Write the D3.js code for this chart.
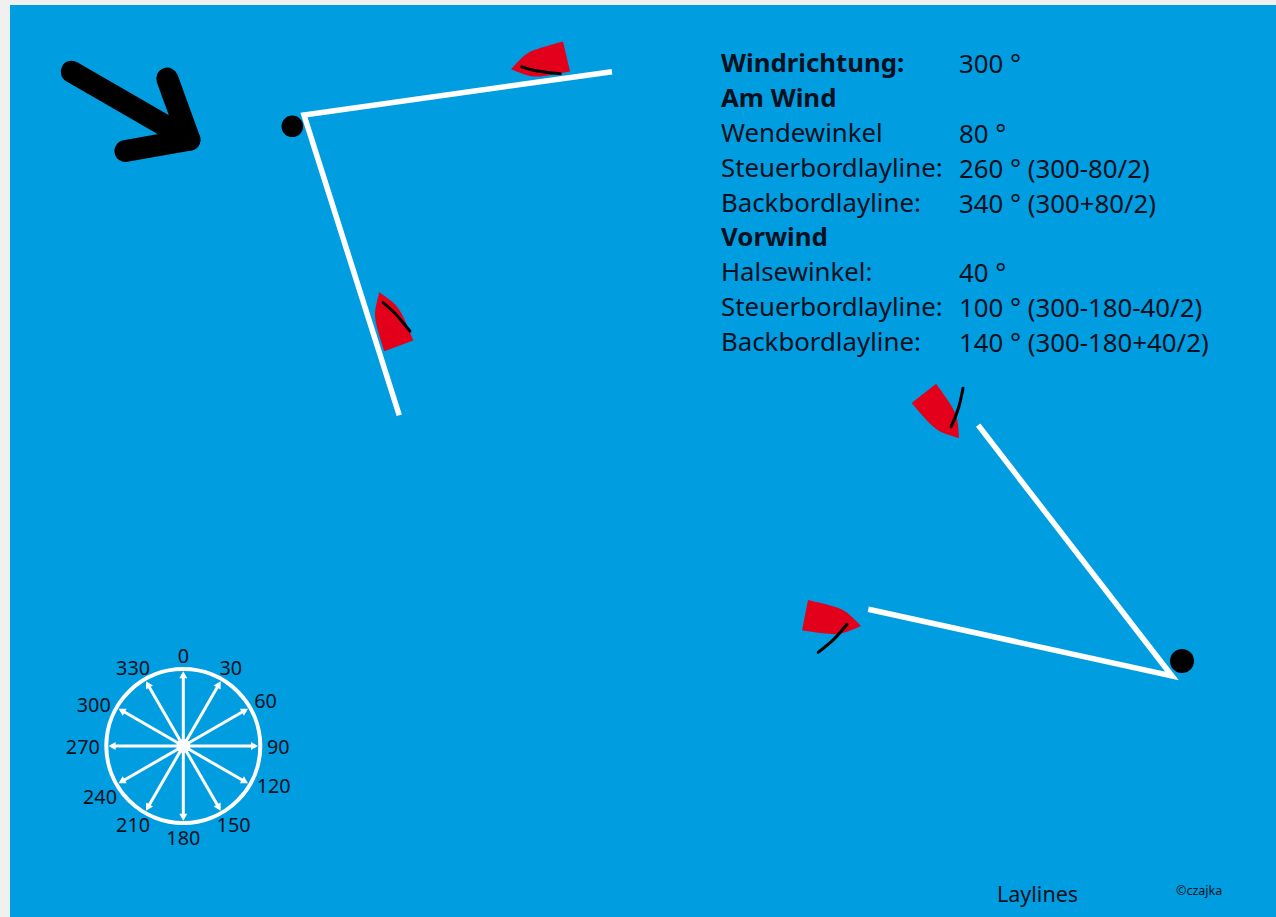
<!DOCTYPE html>
<html>
<head>
<meta charset="utf-8">
<style>
  html, body { margin: 0; padding: 0; background: #f0f0f0; overflow: hidden; }
  svg { display: block; }
  text { font-family: "Noto Sans", sans-serif; fill: #06101e; }
</style>
<script src="https://cdn.jsdelivr.net/npm/d3@7"></script>
</head>
<body>
<div id="chart"></div>
<script>
// wind and laylines, bearings in degrees
const windDirection = 300;
const windArrowStart = [61.7, 66.7];
const windArrowLength = 136;
const windBarbBearings = [260, 340];
const windBarbLength = 65;

// the two corners where the laylines meet, in plan units
const laylineCorners = [[294, 110], [1162, 671]];
const laylineBearings = [[82, 162.4], [282.4, 322.3]];
const laylineLengths = [[311, 315], [311, 317]];

const markPositions = [[282.3, 121.3], [1172, 656]];
const markRadius = [10.8, 12];

// boats: bow position, heading, which side the sail is on
const boatBows = [[501, 64.3], [369.3, 287.3], [949, 433.3], [851, 621]];
const boatHeadings = [257, 340, 142, 101];
const boatSailSide = [-1, 1, -1, 1];
const boatSailType = ["close", "close", "run", "run"];

// hull and sail outline: [distance back from bow, distance to the side]
const hullSide = [[0, 0], [12, 8], [27, 13.5], [57, 15.5]];
const sailShapes = {
  close: [[11, 0], [25, 7.5], [47, 15.5]],
  run: [[14, 1], [24, 18], [37, 34]]
};

// compass
const compassBearings = [0, 30, 60, 90, 120, 150, 180, 210, 240, 270, 300, 330];
const compassCenter = [173.3, 741];
const compassRadius = 77;
// the labels are not quite on their spokes in the original
const compassLabelTurn = [0, 0, 0, 0, -4, 0, 0, 0, -4, 0, -3, 0];

// text block
const tableLabels = ["Windrichtung:", "Am Wind", "Wendewinkel", "Steuerbordlayline:", "Backbordlayline:",
  "Vorwind", "Halsewinkel:", "Steuerbordlayline:", "Backbordlayline:"];
const tableValues = ["300 °", "", "80 °", "260 ° (300-80/2)", "340 ° (300+80/2)",
  "", "40 °", "100 ° (300-180-40/2)", "140 ° (300-180+40/2)"];
const tableBold = ["Windrichtung:", "Am Wind", "Vorwind"];

const width = 1276;
const height = 917;
const white = "#ffffff";
const black = "#000000";
const red = "#e3001b";

const svg = d3.select("#chart").append("svg")
  .attr("width", width)
  .attr("height", height);

const x = d3.scaleLinear().domain([0, 1266]).range([10, 1276]);
const y = d3.scaleLinear().domain([0, 912]).range([5, 917]);

svg.append("rect")
  .attr("x", x(0))
  .attr("y", y(0))
  .attr("width", x(1266) - x(0))
  .attr("height", y(912) - y(0))
  .attr("fill", "#009ee0");

const toRad = (deg) => deg * Math.PI / 180;
// walk from a point along a bearing
const polar = (from, bearing, dist) => [
  from[0] + dist * Math.sin(toRad(bearing)),
  from[1] - dist * Math.cos(toRad(bearing))
];
const line = d3.line().x((d) => x(d[0])).y((d) => y(d[1]));
const curve = d3.line().x((d) => x(d[0])).y((d) => y(d[1])).curve(d3.curveNatural);

// wind arrow
const windBearing = (windDirection + 180) % 360;
const windTip = polar(windArrowStart, windBearing, windArrowLength);
svg.append("g")
  .attr("fill", "none")
  .attr("stroke", black)
  .attr("stroke-width", 22)
  .attr("stroke-linecap", "round")
  .attr("stroke-linejoin", "round")
  .selectAll("path")
  .data([
    [windArrowStart, windTip],
    [polar(windTip, windBarbBearings[0], windBarbLength), windTip, polar(windTip, windBarbBearings[1], windBarbLength)]
  ])
  .join("path")
  .attr("d", line);

// laylines
svg.append("g")
  .attr("fill", "none")
  .attr("stroke", white)
  .attr("stroke-width", 5.5)
  .selectAll("path")
  .data(laylineCorners)
  .join("path")
  .attr("d", (c, i) => line([
    polar(c, laylineBearings[i][0], laylineLengths[i][0]),
    c,
    polar(c, laylineBearings[i][1], laylineLengths[i][1])
  ]));

// marks
svg.append("g")
  .selectAll("circle")
  .data(markPositions)
  .join("circle")
  .attr("cx", (d) => x(d[0]))
  .attr("cy", (d) => y(d[1]))
  .attr("r", (d, i) => markRadius[i])
  .attr("fill", black);

// boats
const boatPoint = (bow, heading, p) => {
  const back = polar(bow, heading + 180, p[0]);
  return polar(back, heading + 90, p[1]);
};
const boats = svg.append("g").selectAll("g")
  .data(boatBows)
  .join("g");

boats.append("path")
  .attr("fill", red)
  .attr("d", (bow, i) => {
    const h = boatHeadings[i];
    const stbd = hullSide.map((p) => boatPoint(bow, h, p));
    const port = hullSide.map((p) => boatPoint(bow, h, [p[0], -p[1]])).reverse();
    return curve(stbd) + "L" + curve(port).slice(1) + "Z";
  });

boats.append("path")
  .attr("fill", "none")
  .attr("stroke", black)
  .attr("stroke-width", 3)
  .attr("stroke-linecap", "round")
  .attr("d", (bow, i) => curve(sailShapes[boatSailType[i]]
    .map((p) => boatPoint(bow, boatHeadings[i], [p[0], p[1] * boatSailSide[i]]))));

// compass
const compass = svg.append("g");
compass.append("circle")
  .attr("cx", x(compassCenter[0]))
  .attr("cy", y(compassCenter[1]))
  .attr("r", compassRadius)
  .attr("fill", "none")
  .attr("stroke", white)
  .attr("stroke-width", 4);

compass.append("g")
  .attr("stroke", white)
  .attr("stroke-width", 3)
  .selectAll("line")
  .data(compassBearings)
  .join("line")
  .attr("x1", x(compassCenter[0]))
  .attr("y1", y(compassCenter[1]))
  .attr("x2", (b) => x(polar(compassCenter, b, compassRadius - 5)[0]))
  .attr("y2", (b) => y(polar(compassCenter, b, compassRadius - 5)[1]));

compass.append("g")
  .attr("fill", white)
  .selectAll("path")
  .data(compassBearings)
  .join("path")
  .attr("d", d3.symbol(d3.symbolTriangle, 28))
  .attr("transform", (b) => {
    const p = polar(compassCenter, b, compassRadius - 7);
    return `translate(${x(p[0])},${y(p[1])}) rotate(${b})`;
  });

compass.append("circle")
  .attr("cx", x(compassCenter[0]))
  .attr("cy", y(compassCenter[1]))
  .attr("r", 7)
  .attr("fill", white);

compass.append("g")
  .attr("font-size", 19.8)
  .attr("text-anchor", "middle")
  .attr("dominant-baseline", "central")
  .selectAll("text")
  .data(compassBearings)
  .join("text")
  .attr("x", (b, i) => {
    const halfWidth = String(b).length * 5.5;
    return x(compassCenter[0]) + (84 + halfWidth) * Math.sin(toRad(b + compassLabelTurn[i]));
  })
  .attr("y", (b, i) => y(compassCenter[1]) - 91 * Math.cos(toRad(b + compassLabelTurn[i])))
  .text((b) => b);

// text block
const rowY = d3.scalePoint().domain(d3.range(tableLabels.length)).range([72, 351]);
const table = svg.append("g").attr("font-size", 25.8);
table.selectAll("text.label")
  .data(tableLabels)
  .join("text")
  .attr("class", "label")
  .attr("x", 721)
  .attr("y", (d, i) => rowY(i))
  .attr("font-weight", (d) => tableBold.includes(d) ? 700 : 400)
  .text((d) => d);
table.selectAll("text.value")
  .data(tableValues)
  .join("text")
  .attr("class", "value")
  .attr("x", 959)
  .attr("y", (d, i) => rowY(i) + 1)
  .text((d) => d);

svg.append("text")
  .attr("x", 997)
  .attr("y", 902)
  .attr("font-size", 21.5)
  .text("Laylines");
svg.append("text")
  .attr("x", 1176)
  .attr("y", 895)
  .attr("font-size", 12.5)
  .text("©czajka");
</script>
</body>
</html>
